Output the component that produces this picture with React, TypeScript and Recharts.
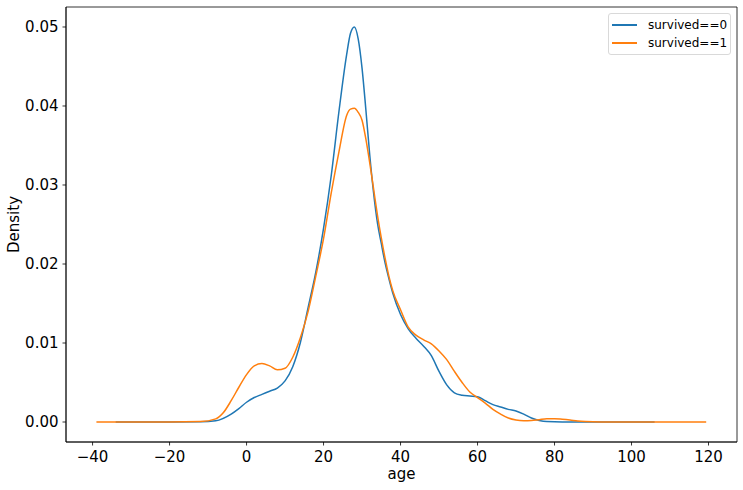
import React from 'react';
import { LineChart, Line, XAxis, YAxis, ReferenceArea } from 'recharts';

// KDE of age
const agesDied = [
  -34, -20, -12, -8, -4, -2, 0, 2, 4, 6, 8, 10, 12, 14, 16, 18, 20, 22, 24, 26, 27, 28, 29, 30,
  31, 32, 33, 34, 35, 36, 37, 38, 40, 42, 44, 46, 48, 50, 52, 54, 56, 58, 60, 62, 64, 66, 68, 70,
  72, 74, 76, 78, 82, 106,
];
const densityDied = [
  0, 0, 0.00002, 0.00015, 0.001, 0.0017, 0.0025, 0.0031, 0.0035, 0.0039, 0.0043, 0.0052, 0.007,
  0.0101, 0.0145, 0.019, 0.0245, 0.0312, 0.0393, 0.0465, 0.0492, 0.05, 0.0485, 0.0448,
  0.0395, 0.0338, 0.029, 0.0252, 0.0226, 0.0201, 0.0181, 0.0163, 0.0136, 0.0118, 0.0106, 0.0096,
  0.0084, 0.0064, 0.0047, 0.0037, 0.0034, 0.0033, 0.0032, 0.0027, 0.0022, 0.0019, 0.0016, 0.0014,
  0.001, 0.0005, 0.0002, 0.00005, 0, 0,
];

const agesSurvived = [
  -39, -20, -12, -8, -6, -4, -2, 0, 2, 4, 6, 8, 10, 12, 14, 16, 18, 20, 22, 24, 26, 27, 28, 29, 30,
  31, 32, 33, 34, 35, 36, 37, 38, 40, 42, 44, 46, 48, 50, 52, 54, 56, 58, 60, 62, 64, 66, 68, 70,
  72, 74, 76, 78, 80, 82, 84, 86, 88, 92, 119.4,
];
const densitySurvived = [
  0, 0, 0.00005, 0.0004, 0.0012, 0.0027, 0.0044, 0.006, 0.0071, 0.0074, 0.0071, 0.0066, 0.0068,
  0.0082, 0.0107, 0.014, 0.0185, 0.0232, 0.029, 0.0342, 0.0388, 0.0396, 0.0397, 0.0392, 0.0382,
  0.0358, 0.0328, 0.0295, 0.0262, 0.0233, 0.0207, 0.0184, 0.0166, 0.0142, 0.012, 0.011, 0.0104,
  0.0099, 0.009, 0.0079, 0.0064, 0.005, 0.0038, 0.0031, 0.0024, 0.0016, 0.001, 0.0005, 0.00025,
  0.00017, 0.0002, 0.0003, 0.0004, 0.00042, 0.00035, 0.00025, 0.00012, 0.00005, 0, 0,
];

const xTicks = [-40, -20, 0, 20, 40, 60, 80, 100, 120];
const yTicks = [0, 0.01, 0.02, 0.03, 0.04, 0.05];

const seriesNames = ['survived==0', 'survived==1'];
const seriesColors = ['#1f77b4', '#ff7f0e'];

const X_DOMAIN: [number, number] = [-46.9, 127.4];
const Y_DOMAIN: [number, number] = [-0.00253, 0.05253];

const diedData = agesDied.map((age, i) => ({ age, density: densityDied[i] }));
const survivedData = agesSurvived.map((age, i) => ({ age, density: densitySurvived[i] }));

const font = '"DejaVu Sans", sans-serif';
const fmtX = (v: number) => String(v).replace('-', '\u2212');

const App: React.FC = () => {
  return (
    <div style={{ position: 'absolute', left: 0, top: 0, width: 743, height: 490, background: '#fff', fontFamily: font }}>
      <LineChart
        width={743}
        height={490}
        margin={{ top: 7, right: 6, bottom: 0, left: 0 }}
      >
        <XAxis
          dataKey="age"
          type="number"
          domain={X_DOMAIN}
          ticks={xTicks}
          allowDataOverflow
          height={48}
          tickFormatter={fmtX}
          tick={{ fill: '#000', fontSize: 15, fontFamily: font }}
          tickSize={3.5}
          tickMargin={6}
          axisLine={{ stroke: '#000', strokeWidth: 0.8 }}
          tickLine={{ stroke: '#000', strokeWidth: 0.8 }}
          label={{ value: 'age', position: 'insideBottom', offset: 11, fill: '#000', fontSize: 15, fontFamily: font }}
        />
        <YAxis
          type="number"
          domain={Y_DOMAIN}
          ticks={yTicks}
          allowDataOverflow
          width={66}
          tickFormatter={(v: number) => v.toFixed(2)}
          tick={{ fill: '#000', fontSize: 15, fontFamily: font }}
          tickSize={3.5}
          tickMargin={4}
          axisLine={{ stroke: '#000', strokeWidth: 0.8 }}
          tickLine={{ stroke: '#000', strokeWidth: 0.8 }}
          label={{
            value: 'Density',
            angle: -90,
            position: 'insideLeft',
            offset: 14,
            fill: '#000',
            fontSize: 15,
            fontFamily: font,
            style: { textAnchor: 'middle' },
          }}
        />
        <ReferenceArea
          x1={X_DOMAIN[0]}
          x2={X_DOMAIN[1]}
          y1={Y_DOMAIN[0]}
          y2={Y_DOMAIN[1]}
          fill="none"
          stroke="#000"
          strokeWidth={0.8}
          ifOverflow="visible"
        />
        <Line
          data={diedData}
          dataKey="density"
          name={seriesNames[0]}
          type="monotone"
          stroke={seriesColors[0]}
          strokeWidth={1.5}
          dot={false}
          isAnimationActive={false}
        />
        <Line
          data={survivedData}
          dataKey="density"
          name={seriesNames[1]}
          type="monotone"
          stroke={seriesColors[1]}
          strokeWidth={1.5}
          dot={false}
          isAnimationActive={false}
        />
      </LineChart>
      <div
        style={{
          position: 'absolute',
          left: 608,
          top: 13,
          width: 123,
          height: 42,
          border: '1px solid #d9d9d9',
          borderRadius: 3,
          background: 'rgba(255,255,255,0.8)',
          boxSizing: 'border-box',
          fontSize: 12,
          color: '#000',
        }}
      >
        {seriesNames.map((name, i) => (
          <div key={name} style={{ position: 'absolute', left: 3, top: 3 + i * 18, height: 16, display: 'flex', alignItems: 'center' }}>
            <span style={{ display: 'inline-block', width: 25, height: 2, background: seriesColors[i], marginRight: 11 }} />
            <span style={{ lineHeight: '16px', whiteSpace: 'nowrap' }}>{name}</span>
          </div>
        ))}
      </div>
    </div>
  );
};

export default App;
